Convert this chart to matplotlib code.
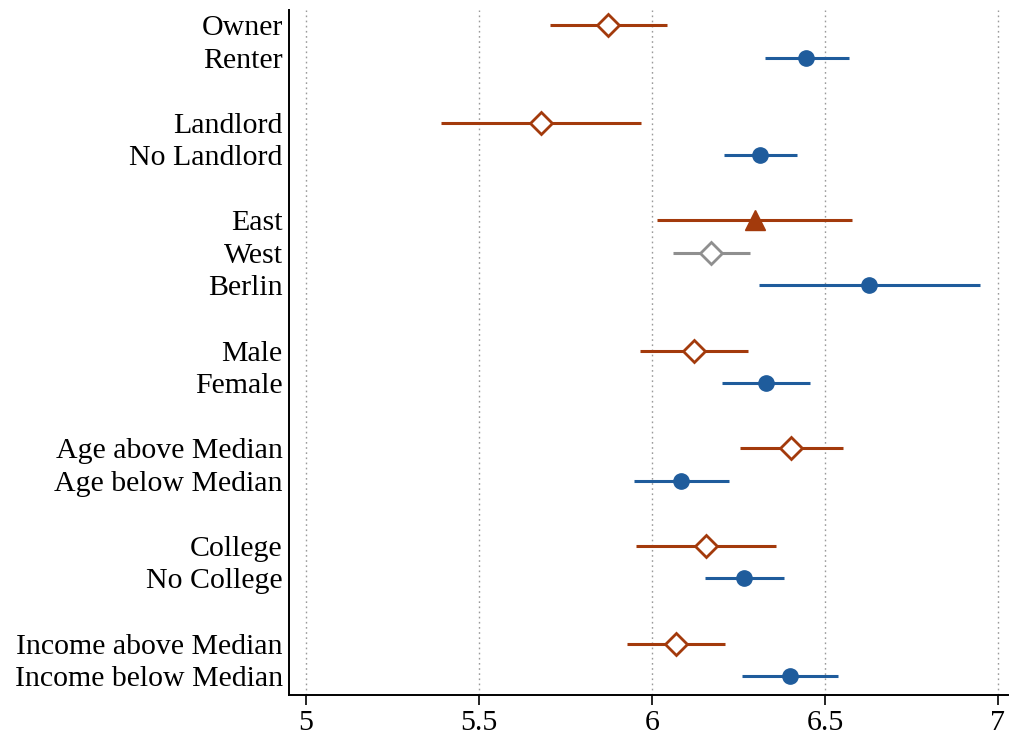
import matplotlib
matplotlib.use("Agg")
import matplotlib.pyplot as plt

labels = ["Owner", "Renter", "Landlord", "No Landlord", "East", "West", "Berlin",
          "Male", "Female", "Age above Median", "Age below Median",
          "College", "No College", "Income above Median", "Income below Median"]
ypos = [0, 1, 3, 4, 6, 7, 8, 10, 11, 13, 14, 16, 17, 19, 20]
est = [5.873, 6.445, 5.679, 6.312, 6.298, 6.171, 6.627, 6.121, 6.329,
       6.402, 6.084, 6.156, 6.266, 6.069, 6.399]
lo = [5.705, 6.327, 5.390, 6.208, 6.014, 6.061, 6.309, 5.965, 6.202,
      6.254, 5.948, 5.954, 6.153, 5.928, 6.260]
hi = [6.043, 6.569, 5.968, 6.419, 6.578, 6.283, 6.948, 6.277, 6.457,
      6.552, 6.223, 6.358, 6.382, 6.211, 6.538]
kind = ["d", "o", "d", "o", "t", "g", "o", "d", "o", "d", "o", "d", "o", "d", "o"]
xticks = [5, 5.5, 6, 6.5, 7]
xticklabels = ["5", "5.5", "6", "6.5", "7"]

RED = "#a33a0c"
BLUE = "#1f5c9c"
GRAY = "#8f8f8f"

plt.rcParams['font.family'] = ['Liberation Serif', 'DejaVu Serif']

fig = plt.figure(figsize=(10.09, 7.31), dpi=100)
ax = fig.add_axes([289/1009, 1-695/731, (1008-289)/1009, (695-10)/731])

for x in xticks:
    ax.axvline(x, color="#9a9a9a", lw=1.0, ls=(0, (1.2, 2.5)), zorder=0)

for y, e, l, h, k in zip(ypos, est, lo, hi, kind):
    if k == "d":
        c = RED
        ax.plot([l, h], [y, y], color=c, lw=2.2, zorder=2, solid_capstyle="butt")
        ax.plot(e, y, marker="D", ms=11, mfc="white", mec=c, mew=2.0, zorder=3)
    elif k == "g":
        c = GRAY
        ax.plot([l, h], [y, y], color=c, lw=2.2, zorder=2, solid_capstyle="butt")
        ax.plot(e, y, marker="D", ms=11, mfc="white", mec=c, mew=2.0, zorder=3)
    elif k == "t":
        c = RED
        ax.plot([l, h], [y, y], color=c, lw=2.2, zorder=2, solid_capstyle="butt")
        ax.plot(e, y, marker="^", ms=14, color=c, zorder=3)
    else:
        c = BLUE
        ax.plot([l, h], [y, y], color=c, lw=2.2, zorder=2, solid_capstyle="butt")
        ax.plot(e, y, marker="o", ms=11, color=c, zorder=3)

ax.set_xlim(4.951, 7.029)
ax.set_ylim(20.58, -0.46)
ax.set_yticks(ypos)
ax.set_yticklabels(labels, fontsize=21.5)
ax.tick_params(axis="y", length=0, pad=4.5)
ax.set_xticks(xticks)
ax.set_xticklabels(xticklabels, fontsize=21.5)
ax.tick_params(axis="x", length=7.2, width=1.2, pad=3.5)
for s in ["top", "right"]:
    ax.spines[s].set_visible(False)
for s in ["left", "bottom"]:
    ax.spines[s].set_linewidth(1.4)

fig.savefig("out.png", dpi=100)
